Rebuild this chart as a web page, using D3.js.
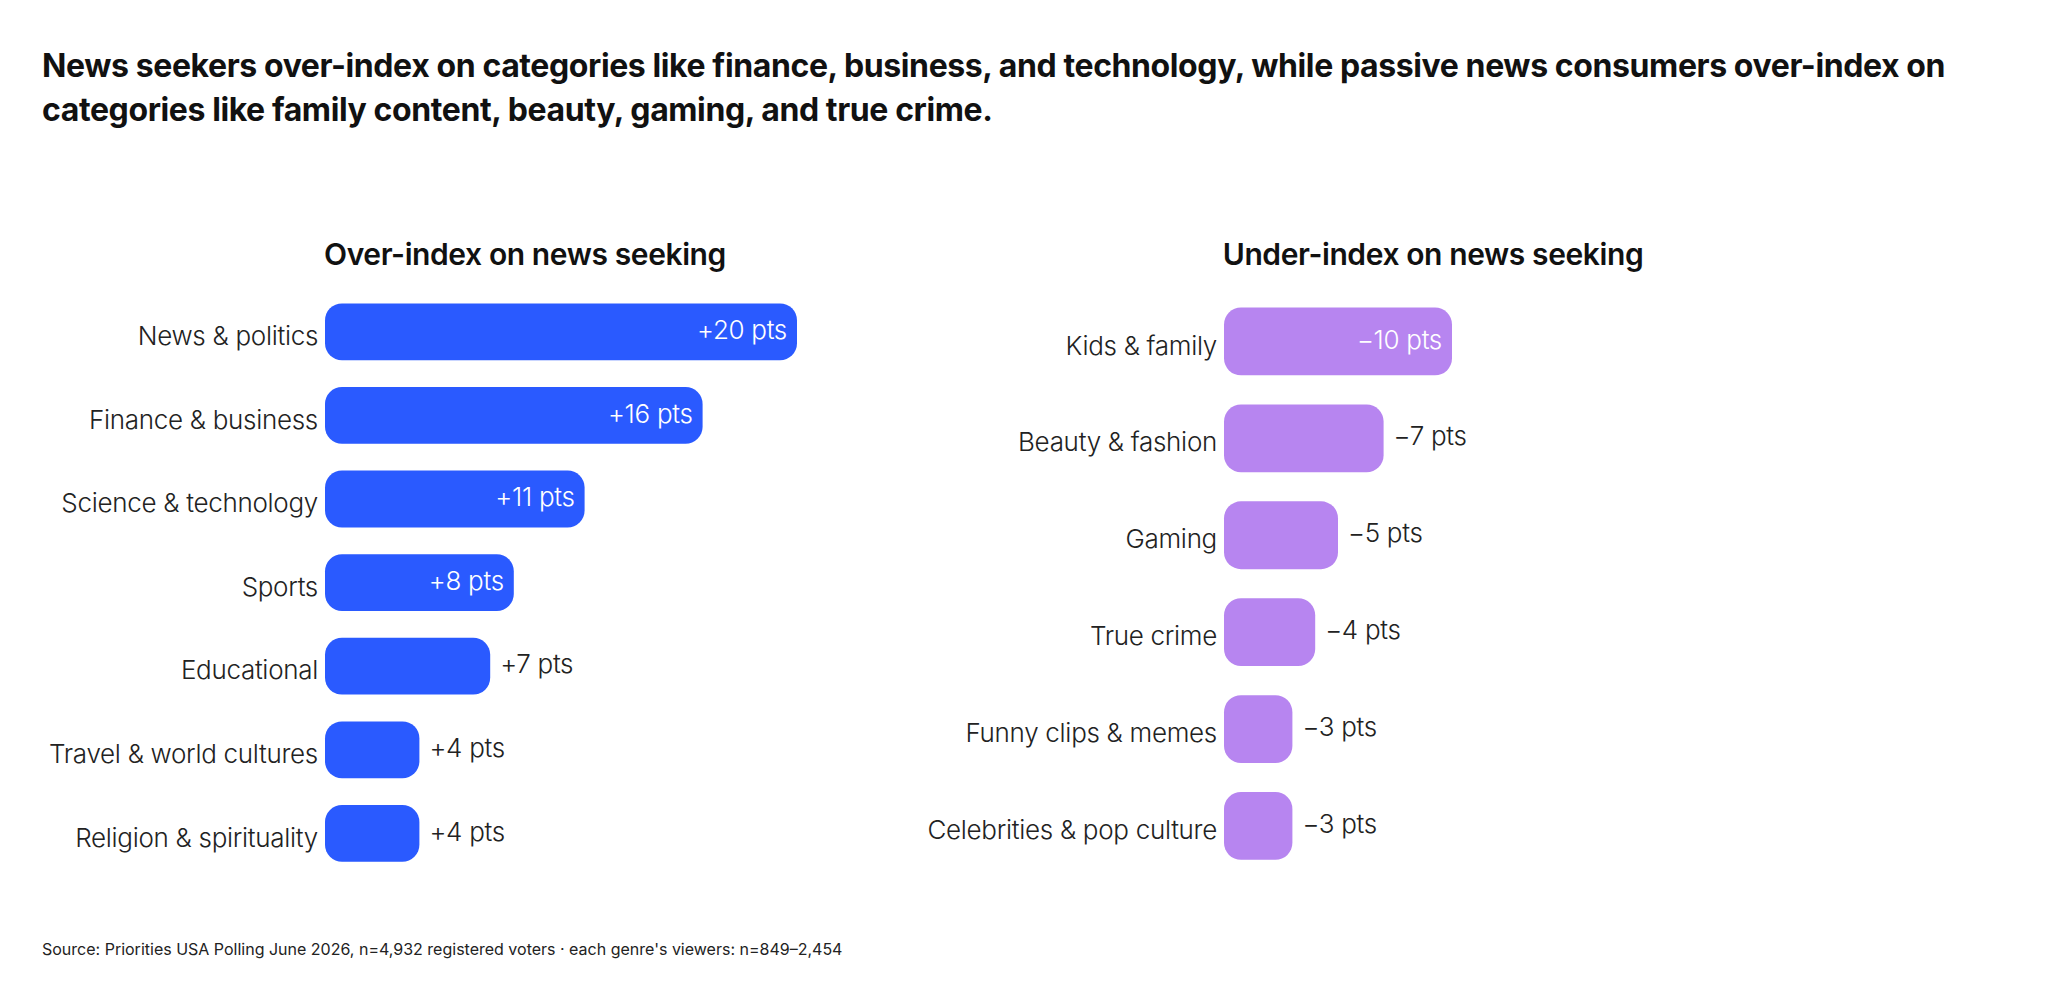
<!DOCTYPE html><html><head><meta charset="utf-8"><script src="https://cdn.jsdelivr.net/npm/d3@7"></script>
<style>body{margin:0;background:#fff}text{font-family:Inter,"Noto Sans",sans-serif}</style></head><body>
<svg id="c" width="2048" height="1003"></svg>
<script>
const overCats=["News & politics","Finance & business","Science & technology","Sports","Educational","Travel & world cultures","Religion & spirituality"];
const overVals=[20,16,11,8,7,4,4];
const underCats=["Kids & family","Beauty & fashion","Gaming","True crime","Funny clips & memes","Celebrities & pop culture"];
const underVals=[10,7,5,4,3,3];
const svg=d3.select("#c");
const title=["News seekers over-index on categories like finance, business, and technology, while passive news consumers over-index on","categories like family content, beauty, gaming, and true crime."];
const tw=[1964,990];
title.forEach((t,i)=>{const el=svg.append("text").attr("x",42).attr("y",77+i*44).attr("font-size",32).attr("font-weight",700).attr("letter-spacing",-0.4).attr("fill","#111").text(t);
  if(el.node().getComputedTextLength()>tw[i]) el.attr("textLength",tw[i]).attr("lengthAdjust","spacingAndGlyphs");});
svg.append("text").attr("x",42).attr("y",955).attr("font-size",16).attr("fill","#222").text("Source: Priorities USA Polling June 2026, n=4,932 registered voters · each genre's viewers: n=849–2,454");
function panel(o){
  const g=svg.append("g");
  g.append("text").attr("x",o.tx).attr("y",265).attr("text-anchor","middle").attr("font-size",30).attr("font-weight",600).attr("letter-spacing",-0.4).attr("fill","#111").text(o.title);
  const x=d3.scaleLinear().domain([0,o.max]).range([o.x0,o.x0+o.w]);
  const y=d3.scaleBand().domain(o.cats).range([o.y0,o.y0+o.step*o.cats.length]).paddingInner(o.pad).paddingOuter(o.pad/2);
  o.cats.forEach((c,i)=>{
    const v=o.vals[i],yc=y(c)+y.bandwidth()/2,xe=x(v);
    g.append("rect").attr("x",x(0)).attr("y",y(c)).attr("width",xe-x(0)).attr("height",y.bandwidth()).attr("rx",17).attr("fill",o.color);
    g.append("text").attr("x",x(0)-7).attr("y",yc+4).attr("dy","0.35em").attr("text-anchor","end").attr("font-size",26).attr("font-weight",300).attr("letter-spacing",-0.3).attr("fill","#222").text(c);
    const lab=o.sign+v+" pts",inside=v>=o.inside;
    g.append("text").attr("x",inside?xe-10:xe+10).attr("y",yc-2).attr("dy","0.35em").attr("text-anchor",inside?"end":"start").attr("font-size",26).attr("font-weight",300).attr("letter-spacing",-0.3).attr("fill",inside?"#fff":"#222").text(lab);
  });
}
panel({title:"Over-index on news seeking",tx:525,cats:overCats,vals:overVals,max:20,x0:325,w:472,y0:290,step:83.6,pad:0.32,color:"#2a5aff",sign:"+",inside:8});
panel({title:"Under-index on news seeking",tx:1433,cats:underCats,vals:underVals,max:10,x0:1224,w:228,y0:293,step:96.9,pad:0.3,color:"#b785f0",sign:"−",inside:10});
</script></body></html>
